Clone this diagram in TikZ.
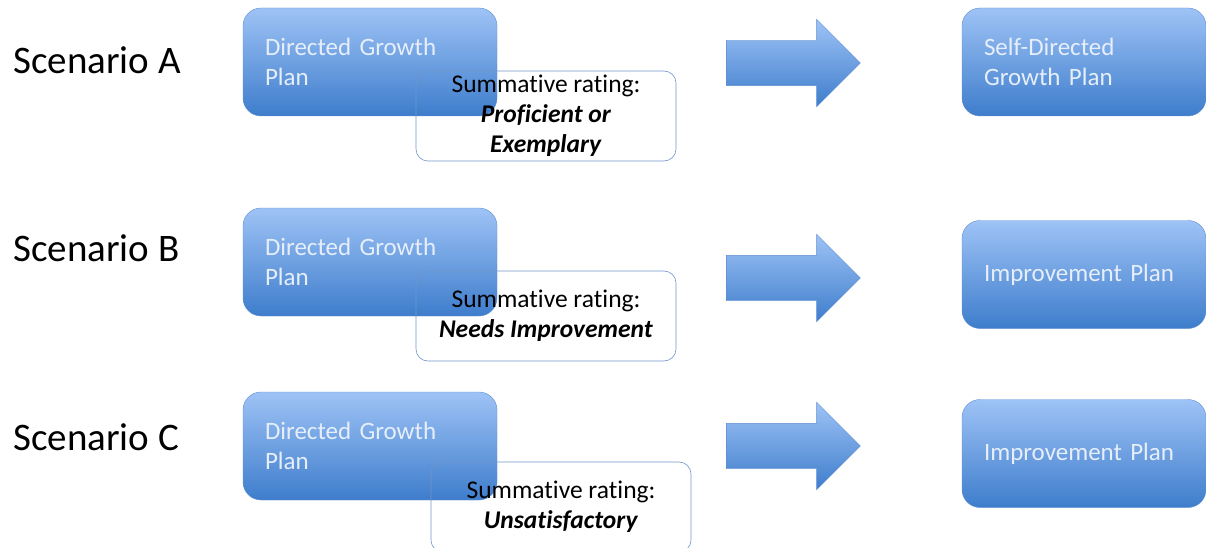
\documentclass[tikz,border=0pt]{standalone}
\usepackage{fontspec}
\setmainfont[Ligatures=NoCommon]{Carlito}
\usepackage{xcolor}
\usetikzlibrary{positioning, shapes.arrows}

\definecolor{plantop}{HTML}{9EC3F6}
\definecolor{planbot}{HTML}{3E7DCC}
\definecolor{planedge}{HTML}{5F8DD0}
\definecolor{plantext}{HTML}{E6EEFA}
\definecolor{rateedge}{HTML}{6F95CA}

\begin{document}
\begin{tikzpicture}[
    x=1pt, y=-1pt,
    scen/.style={anchor=west, font=\fontsize{39}{44}\selectfont, inner sep=0pt},
    plan/.style={draw=planedge, rounded corners=18pt, top color=plantop,
                 bottom color=planbot, minimum height=108pt, text=plantext,
                 font=\fontsize{25}{30}\selectfont, align=left,
                 inner xsep=22pt},
    rate/.style={draw=rateedge, semithick, rounded corners=12pt,
                 minimum width=260pt, minimum height=90pt, align=center,
                 font=\fontsize{25.5}{30}\selectfont},
    go/.style={single arrow, draw=planedge, top color=plantop,
               bottom color=planbot, minimum height=134pt, minimum width=87pt,
               single arrow head extend=21pt, inner xsep=0pt,
               inner ysep=22.5pt},
  ]

  \useasboundingbox (0,0) rectangle (1206,548);

  % -- Scenario A
  \node[scen] (scA) at (13, 60) {Scenario A};
  \node[plan, text width=210pt] (dgA) at (370, 62) {Directed Growth\\Plan};
  \node[rate] (rtA) at (546, 116)
    {Summative rating:\\\textbf{\textit{Proficient or}}\\\textbf{\textit{Exemplary}}};
  \node[go] (arA) at (782, 63) {};
  \node[plan, text width=200pt] (nxA) at (1084, 62) {Self-Directed\\Growth Plan};

  % -- Scenario B
  \node[scen] (scB) at (13, 248) {Scenario B};
  \node[plan, text width=210pt] (dgB) at (370, 262) {Directed Growth\\Plan};
  \node[rate] (rtB) at (546, 316)
    {Summative rating:\\\textbf{\textit{Needs Improvement}}};
  \node[go] (arB) at (782, 278) {};
  \node[plan, text width=200pt] (nxB) at (1084, 274.5) {Improvement Plan};

  % -- Scenario C
  \node[scen] (scC) at (13, 437) {Scenario C};
  \node[plan, text width=210pt] (dgC) at (370, 446) {Directed Growth\\Plan};
  \node[rate] (rtC) at (561, 507)
    {Summative rating:\\\textbf{\textit{Unsatisfactory}}};
  \node[go] (arC) at (782, 446) {};
  \node[plan, text width=200pt] (nxC) at (1084, 453.5) {Improvement Plan};

\end{tikzpicture}
\end{document}
